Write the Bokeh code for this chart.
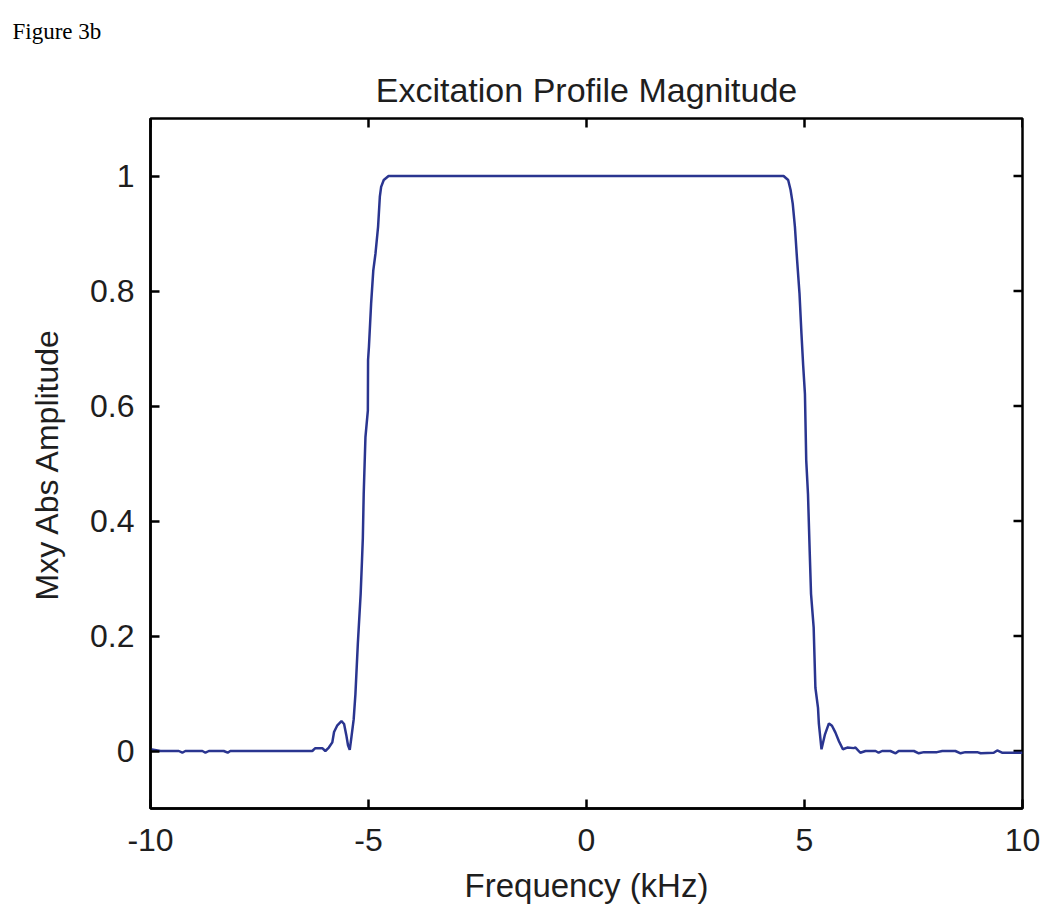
import math
from bokeh.plotting import figure
from bokeh.models import FixedTicker, Range1d, Title
from bokeh.embed import file_html
from bokeh.resources import INLINE

# ---- data ----
freq_khz = [
    -10.0, -9.77, -9.35, -9.27, -9.20, -8.81, -8.74, -8.66, -8.32, -8.23, -8.17,
    -6.29, -6.22, -6.06, -5.99, -5.91, -5.83, -5.79, -5.72, -5.62, -5.56, -5.51,
    -5.47, -5.43, -5.39, -5.34, -5.30, -5.245, -5.18, -5.15, -5.13, -5.11, -5.07,
    -5.015, -5.01, -4.99, -4.94, -4.89, -4.84, -4.78, -4.74, -4.71, -4.65, -4.54,
    4.52, 4.625, 4.68, 4.73, 4.78, 4.83, 4.885, 4.93, 4.97, 5.01, 5.04, 5.08,
    5.12, 5.15, 5.21, 5.25, 5.31, 5.33, 5.39, 5.47, 5.56, 5.63, 5.71, 5.79,
    5.88, 5.98, 6.13, 6.17, 6.28, 6.40, 6.63, 6.70, 6.78, 6.97, 7.09, 7.16,
    7.51, 7.62, 7.74, 8.04, 8.16, 8.46, 8.58, 8.69, 8.96, 9.04, 9.34, 9.42,
    9.53, 9.80, 10.0,
]
mxy_abs = [
    0.003, 0.0, 0.0, -0.003, 0.0, 0.0, -0.003, 0.0, 0.0, -0.003, 0.0,
    0.0, 0.005, 0.005, 0.0, 0.006, 0.015, 0.033, 0.044, 0.052, 0.047, 0.028,
    0.010, 0.002, 0.025, 0.055, 0.099, 0.186, 0.273, 0.33, 0.37, 0.447, 0.546,
    0.592, 0.68, 0.703, 0.778, 0.836, 0.865, 0.912, 0.964, 0.981, 0.993, 1.0,
    1.0, 0.993, 0.976, 0.952, 0.912, 0.854, 0.796, 0.726, 0.67, 0.621, 0.505, 0.447,
    0.345, 0.273, 0.215, 0.110, 0.075, 0.047, 0.003, 0.029, 0.048, 0.044, 0.032, 0.017,
    0.003, 0.006, 0.005, 0.006, -0.003, 0.0, 0.0, -0.003, 0.0, 0.0, -0.004, 0.0,
    0.0, -0.004, -0.002, -0.002, 0.0, 0.0, -0.004, -0.002, -0.002, -0.004, -0.003, 0.001,
    -0.003, -0.003, -0.003,
]
x_ticks = [-10, -5, 0, 5, 10]
x_tick_labels = {-10: "-10", -5: "-5", 0: "0", 5: "5", 10: "10"}
y_ticks = [0, 0.2, 0.4, 0.6, 0.8, 1]
y_tick_labels = {0: "0", 0.2: "0.2", 0.4: "0.4", 0.6: "0.6", 0.8: "0.8", 1: "1"}
x_lo, x_hi = -10, 10
y_lo, y_hi = -0.1, 1.1

FONT = "Liberation Sans"
TXT = "#1e1e1e"

p = figure(
    width=1042, height=908,
    x_range=Range1d(x_lo, x_hi), y_range=Range1d(y_lo, y_hi),
    output_backend="svg", toolbar_location=None, title_location=None,
    x_axis_label="Frequency (kHz)", y_axis_label="Mxy Abs Amplitude",
)
p.min_border_left = 150
p.min_border_right = 20
p.min_border_top = 118
p.min_border_bottom = 100

main_title = Title(
    text="Excitation Profile Magnitude", align="center",
    text_font=FONT, text_font_size="34px", text_font_style="normal",
    text_color=TXT, standoff=20,
)
p.add_layout(main_title, "above")
fig_title = Title(
    text="Figure 3b", align="left", offset=-138, vertical_align="top",
    text_font="Liberation Serif", text_font_size="23px", text_font_style="normal",
    text_color="black", standoff=26,
)
p.add_layout(fig_title, "above")

p.grid.visible = False
p.outline_line_color = "black"
p.outline_line_width = 2.5
p.background_fill_color = "white"
p.border_fill_color = "white"

xa = p.xaxis[0]
ya = p.yaxis[0]
xa.ticker = FixedTicker(ticks=x_ticks)
ya.ticker = FixedTicker(ticks=y_ticks)
xa.major_label_overrides = x_tick_labels
ya.major_label_overrides = y_tick_labels
for ax in (xa, ya):
    ax.major_tick_in = 9
    ax.major_tick_out = 0
    ax.minor_tick_in = 0
    ax.minor_tick_out = 0
    ax.major_tick_line_color = "black"
    ax.major_tick_line_width = 2.5
    ax.axis_line_color = "black"
    ax.axis_line_width = 2.5
    ax.major_label_text_font = FONT
    ax.major_label_text_color = TXT
    ax.major_label_text_font_size = "32px"
    ax.axis_label_text_font = FONT
    ax.axis_label_text_font_style = "normal"
    ax.axis_label_text_color = TXT
xa.axis_label_text_font_size = "33px"
ya.axis_label_text_font_size = "32px"
xa.major_label_standoff = 20
ya.major_label_standoff = 16
xa.axis_label_standoff = 13
ya.axis_label_standoff = 22

# inward ticks on the top and right edges of the box (half of each dash is clipped by the frame)
p.scatter(x_ticks, [y_hi] * len(x_ticks), marker="dash", size=18, angle=math.pi / 2,
          line_color="black", line_width=2.5)
p.scatter([x_hi] * len(y_ticks), y_ticks, marker="dash", size=18,
          line_color="black", line_width=2.5)

p.line(freq_khz, mxy_abs, line_color="#2a3590", line_width=2.5)

open("out.html", "w").write(file_html(p, INLINE))
